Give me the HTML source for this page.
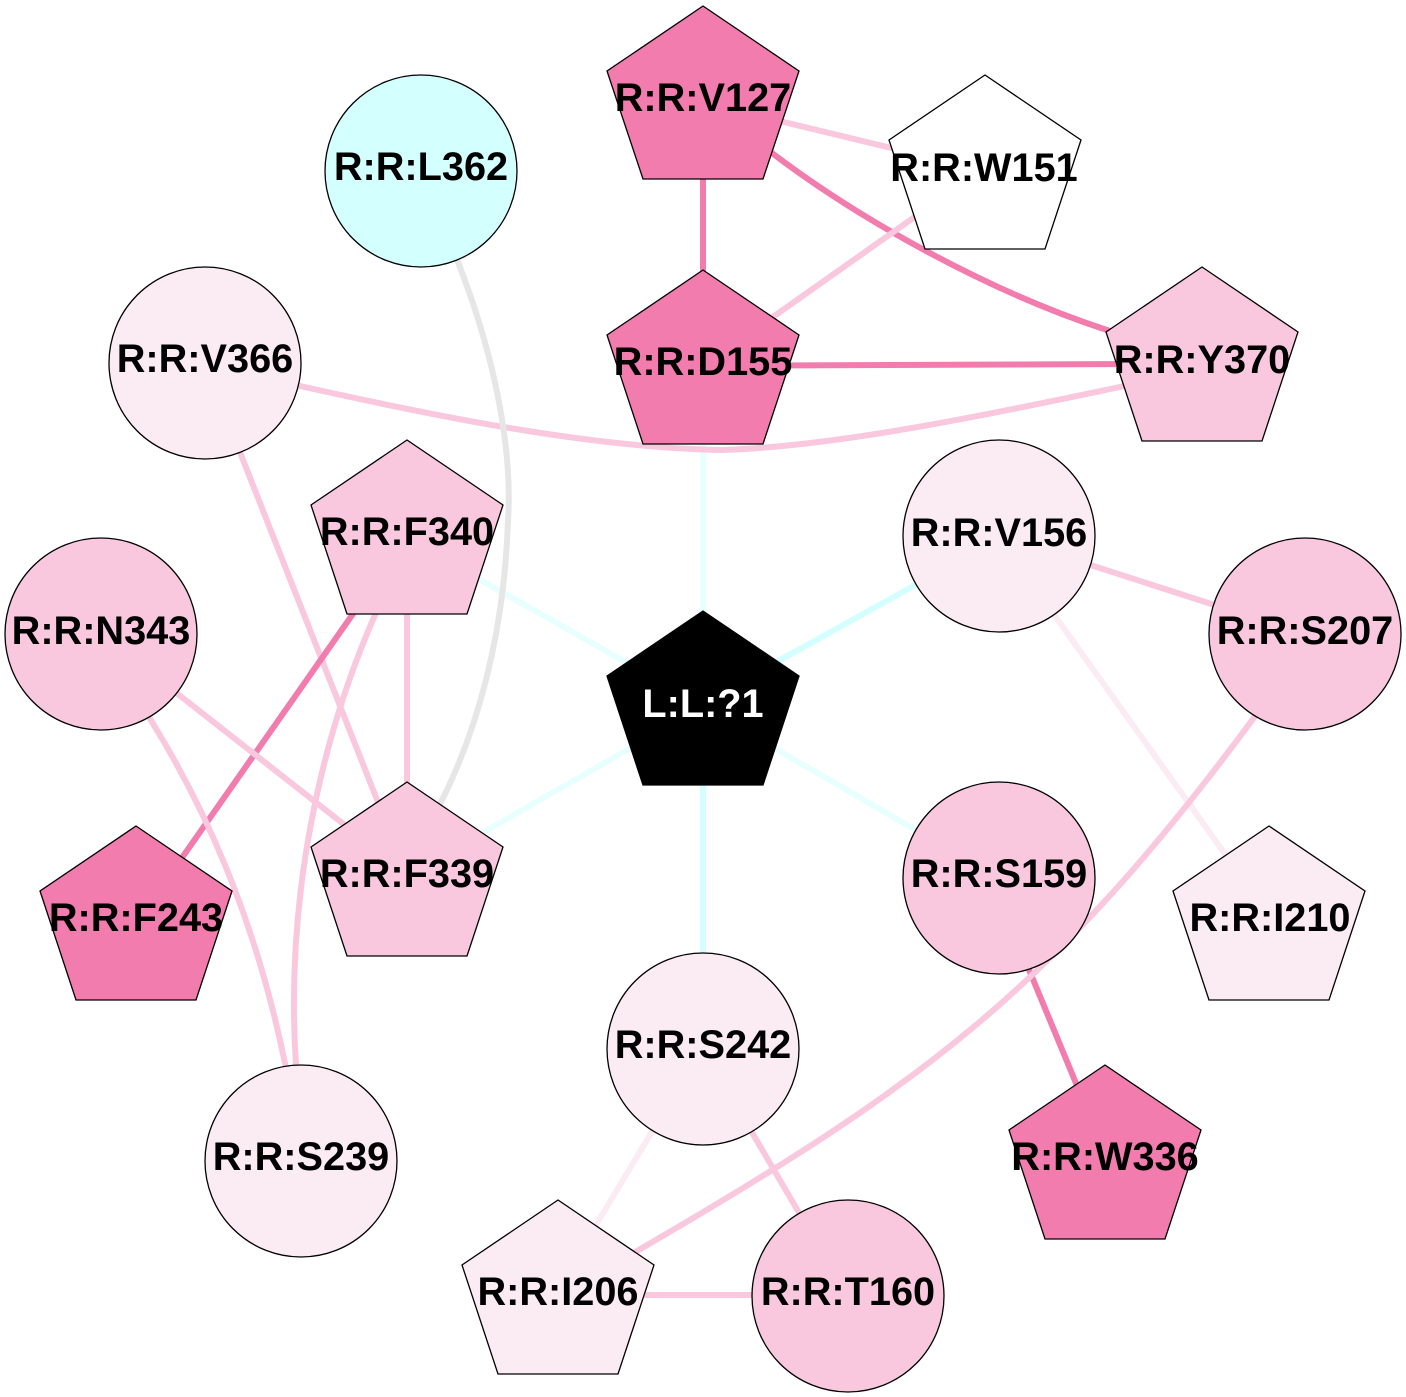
<!DOCTYPE html>
<html><head><meta charset="utf-8"><style>html,body{margin:0;padding:0;background:#fff}svg{display:block}
text{font-family:"Liberation Sans",Arial,sans-serif;font-weight:bold;font-size:39.7px;text-anchor:middle;fill:#000}
.s,.m,.l,.c1,.c2,.g{fill:none}
.s{stroke:#f27cae;stroke-width:6}.m{stroke:#f9c8de;stroke-width:6}.l{stroke:#fbebf3;stroke-width:6}
.c1{stroke:#d4ffff;stroke-width:6}.c2{stroke:#e7fffe;stroke-width:6}.g{stroke:#e6e6e6;stroke-width:6}
</style></head><body>
<svg width="1406" height="1397" viewBox="0 0 1406 1397" xmlns="http://www.w3.org/2000/svg">
<g>
<path class="c2" d="M703 430V640"/>
<path class="c2" d="M463 570L650 676"/>
<path class="c1" d="M935 574L755 674"/>
<path class="c2" d="M463 844L650 737"/>
<path class="c2" d="M935 841L755 737"/>
<path class="c1" d="M703 770V970"/>
<path class="m" d="M763 117L908 152"/>
<path class="s" d="M703 170V280"/>
<path class="s" d="M755 141L772 153C860 220 990 292 1107 330L1125 337"/>
<path class="m" d="M933 204L753 331"/>
<path class="s" d="M770 365.500L1135 364"/>
<path class="m" d="M280 381L300 386C430 415 590 448 723 450C840 446 985 415 1120 387L1165 372"/>
<path class="g" d="M450 240L458 262C500 370 512 460 508 520C504 640 475 735 441 802L432 820"/>
<path class="m" d="M232 432L385 820"/>
<path class="m" d="M407 600V800"/>
<path class="s" d="M369 591L165 882"/>
<path class="m" d="M385 592L375 615C320 740 285 900 296 1065L298 1085"/>
<path class="m" d="M160 680L360 837"/>
<path class="m" d="M140 700L152 722C200 800 254 910 286 1068L290 1090"/>
<path class="m" d="M1075 560L1230 610"/>
<path class="l" d="M1040 595L1240 875"/>
<path class="s" d="M1025 960L1085 1105"/>
<path class="m" d="M1265 702L1253 719C1052 991 918.500 1087.500 637 1251L620 1261"/>
<path class="l" d="M665 1110L590 1235"/>
<path class="m" d="M740 1112L815 1240"/>
<path class="m" d="M630 1295H770"/>
</g>
<g stroke="#000" stroke-width="1.3">
<circle cx="421" cy="171" r="96" fill="#d4ffff"/>
<circle cx="205" cy="363" r="96" fill="#fbebf3"/>
<circle cx="999" cy="536" r="96" fill="#fbebf3"/>
<circle cx="101" cy="634" r="96" fill="#f9c8de"/>
<circle cx="1305" cy="634" r="96" fill="#f9c8de"/>
<circle cx="999" cy="878" r="96" fill="#f9c8de"/>
<circle cx="703" cy="1049" r="96" fill="#fbebf3"/>
<circle cx="301" cy="1161" r="96" fill="#fbebf3"/>
<circle cx="848" cy="1296" r="96" fill="#f9c8de"/>
<polygon points="703,6 799,71 763,179 643,179 607,71" fill="#f27cae"/>
<polygon points="985,75 1081,140 1045,249 925,249 889,140" fill="#fff"/>
<polygon points="703,270 799,335 763,444 643,444 607,335" fill="#f27cae"/>
<polygon points="1202,267 1298,332 1262,441 1142,441 1106,332" fill="#f9c8de"/>
<polygon points="407,440 503,505 467,614 347,614 311,505" fill="#f9c8de"/>
<polygon points="407,782 503,847 467,956 347,956 311,847" fill="#f9c8de"/>
<polygon points="136,826 232,891 196,1000 76,1000 40,891" fill="#f27cae"/>
<polygon points="1269,826 1365,891 1329,1000 1209,1000 1173,891" fill="#fbebf3"/>
<polygon points="1105,1065 1201,1130 1165,1239 1045,1239 1009,1130" fill="#f27cae"/>
<polygon points="558,1200 654,1265 618,1374 498,1374 462,1265" fill="#fbebf3"/>
<polygon points="703,611 799,676 763,785 643,785 607,676" fill="#000"/>
</g>
<g>
<text x="421" y="180">R:R:L362</text>
<text x="205" y="372">R:R:V366</text>
<text x="999" y="546">R:R:V156</text>
<text x="101" y="644">R:R:N343</text>
<text x="1305" y="644">R:R:S207</text>
<text x="999" y="887">R:R:S159</text>
<text x="703" y="1058">R:R:S242</text>
<text x="301" y="1170">R:R:S239</text>
<text x="848" y="1305">R:R:T160</text>
<text x="703" y="111">R:R:V127</text>
<text x="984" y="181">R:R:W151</text>
<text x="703" y="375">R:R:D155</text>
<text x="1202" y="373">R:R:Y370</text>
<text x="407" y="545">R:R:F340</text>
<text x="407" y="887">R:R:F339</text>
<text x="136" y="931">R:R:F243</text>
<text x="1270" y="931">R:R:I210</text>
<text x="1105" y="1170">R:R:W336</text>
<text x="558" y="1305">R:R:I206</text>
<text x="703" y="717" style="fill:#fff">L:L:?1</text>
</g>
</svg>
</body></html>
